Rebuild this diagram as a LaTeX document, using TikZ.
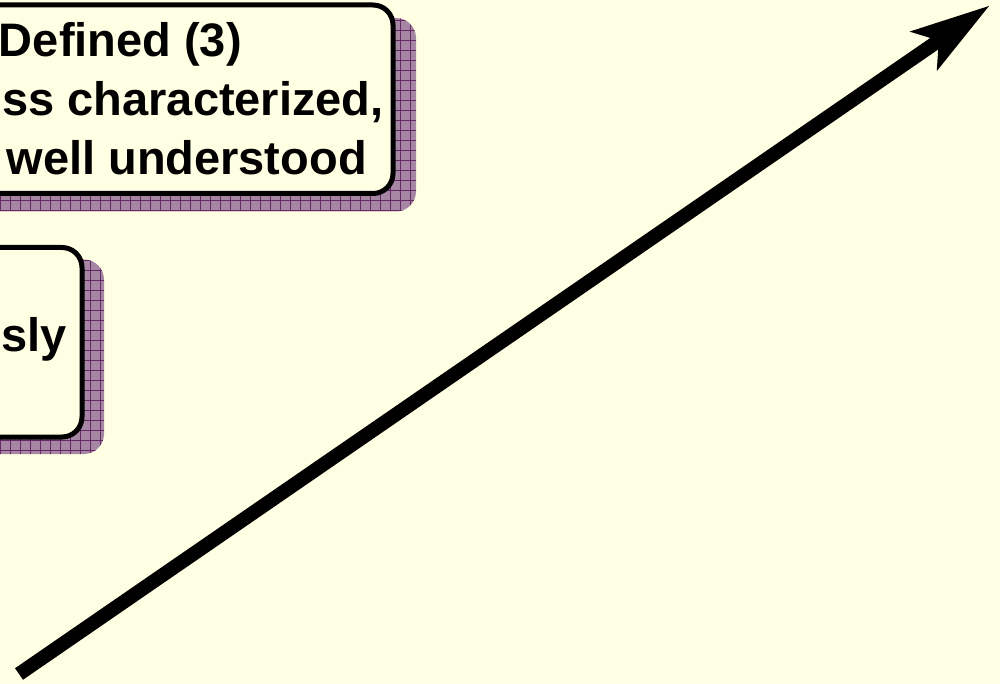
\documentclass[tikz,border=0pt]{standalone}
\usepackage{fontspec}
\setmainfont{Liberation Sans}
\usetikzlibrary{arrows.meta}
\definecolor{bg}{RGB}{255,255,228}
\definecolor{shadowfill}{RGB}{165,135,163}
\definecolor{shadowgrid}{RGB}{100,40,100}
\tikzset{
  box/.style={draw=black, line width=5pt, rounded corners=20pt, fill=bg, inner sep=0pt},
  boxtext/.style={font=\fontsize{47}{56}\selectfont\bfseries, text=black, inner sep=0pt, anchor=base east},
  shadowbox/.style={fill=shadowfill, rounded corners=20pt},
  shadowlines/.style={draw=shadowgrid, line width=0.8pt},
  bigarrow/.style={line width=14pt, -{Stealth[length=80pt,width=48pt,inset=19pt,line width=0pt]}},
}
\begin{document}
\begin{tikzpicture}[x=1pt,y=-1pt]
\useasboundingbox (0,0) rectangle (1000,684);
\fill[bg] (0,0) rectangle (1000,684);
% shadow of box 1
\begin{scope}
  \path[shadowbox] (-200,18) rectangle (416,211.5);
  \clip[rounded corners=20pt] (-200,18) rectangle (416,211.5);
  \draw[shadowlines] (-200,18) grid[step=10pt] (416,211.5);
\end{scope}
% shadow of box 2
\begin{scope}
  \path[shadowbox] (-300,259.5) rectangle (104,454);
  \clip[rounded corners=20pt] (-300,259.5) rectangle (104,454);
  \draw[shadowlines] (-300,259.5) grid[step=10pt] (104,454);
\end{scope}
% boxes
\node[box, anchor=north east, minimum width=595.5pt, minimum height=188.5pt] (box1) at (395.5,2.5) {};
\node[box, anchor=north east, minimum width=384.5pt, minimum height=189.5pt] (box2) at (84.5,245) {};
% texts
\node[boxtext] (t1) at (242,57) {Defined (3)};
\node[boxtext] (t2) at (384,116) {ss characterized,};
\node[boxtext] (t3) at (367,175) {well understood};
\node[boxtext] (t4) at (67,351) {sly};
% arrow
\coordinate (tail) at (19,674);
\coordinate (tip) at (989,6);
\draw[bigarrow] (tail) -- (tip);
\end{tikzpicture}
\end{document}
